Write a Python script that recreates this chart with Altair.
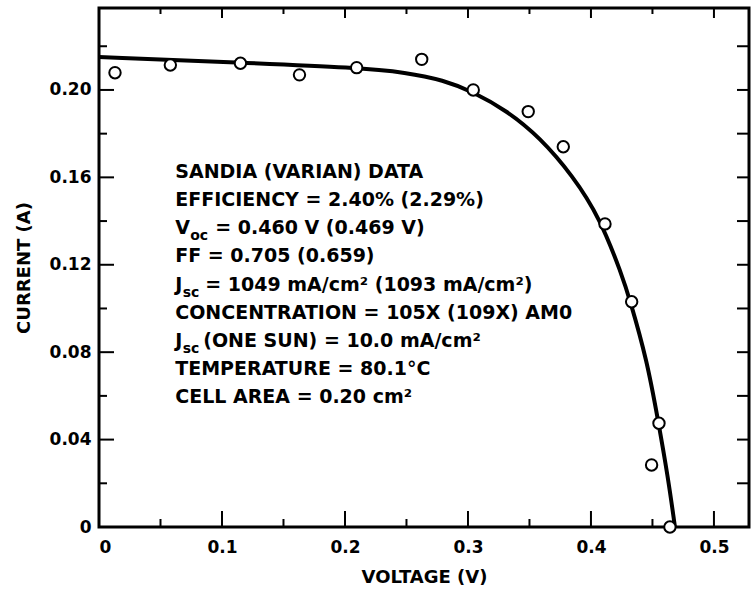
import altair as alt
import pandas as pd

# ---- data ----
meas_v = [0.013, 0.058, 0.115, 0.163, 0.2095, 0.2624, 0.3043, 0.349, 0.3775, 0.4114, 0.4331, 0.4553, 0.4493, 0.4642]
meas_i = [0.2079, 0.2114, 0.2122, 0.2069, 0.2102, 0.2140, 0.2000, 0.1901, 0.1740, 0.1387, 0.1031, 0.0475, 0.0284, 0.0]

fit_v = [0.0, 0.1146, 0.2098, 0.25, 0.28, 0.3041, 0.3317, 0.3585, 0.3854, 0.4073, 0.4252, 0.4317, 0.4455, 0.4545, 0.4626, 0.4683]
fit_i = [0.2151, 0.2125, 0.2102, 0.2080, 0.2045, 0.1992, 0.1905, 0.1783, 0.1606, 0.1414, 0.1153, 0.1039, 0.0764, 0.0490, 0.0229, 0.0]

x_major = [0.0, 0.1, 0.2, 0.3, 0.4, 0.5]
x_minor = [0.05, 0.15, 0.25, 0.35, 0.45]
y_major = [0.0, 0.04, 0.08, 0.12, 0.16, 0.20]
y_minor = [0.02, 0.06, 0.10, 0.14, 0.18, 0.22]

# annotation lines: (lead text, subscript, rest of line)
note_lead = ["SANDIA (VARIAN) DATA", "EFFICIENCY = 2.40% (2.29%)", "V", "FF = 0.705 (0.659)", "J",
             "CONCENTRATION = 105X (109X) AM0", "J", "TEMPERATURE = 80.1\u00b0C", "CELL AREA = 0.20 cm\u00b2"]
note_sub = ["", "", "oc", "", "sc", "", "sc", "", ""]
note_rest = ["", "", "= 0.460 V (0.469 V)", "", "= 1049 mA/cm\u00b2 (1093 mA/cm\u00b2)", "",
             "(ONE SUN) = 10.0 mA/cm\u00b2", "", ""]

# ---- layout ----
W, H = 650, 519
FONT = "DejaVu Sans"
XMAX, YMAX = 0.5285, 0.2375
TEXT_X, TEXT_Y0, TEXT_STEP = 0.062, 0.1625, 0.0129
SUB_DX = {"V": 15, "J": 7.5}
REST_DX = {"V": 40, "J": 30}

xs = alt.Scale(domain=[0, XMAX], nice=False, zero=False)
ys = alt.Scale(domain=[0, YMAX], nice=False, zero=False)

x_axis = alt.Axis(
    values=x_major, labelExpr="datum.value == 0 ? '0' : format(datum.value, '.1f')",
    ticks=False, domain=False, grid=False, labelFont=FONT, labelFontSize=17,
    labelFontWeight="bold", labelColor="black", labelPadding=12,
    title="VOLTAGE (V)", titleFont=FONT, titleFontSize=18, titleFontWeight="bold",
    titleColor="black", titlePadding=13,
)
y_axis = alt.Axis(
    values=y_major, labelExpr="datum.value == 0 ? '0' : format(datum.value, '.2f')",
    ticks=False, domain=False, grid=False, labelFont=FONT, labelFontSize=17,
    labelFontWeight="bold", labelColor="black", labelPadding=8,
    title="CURRENT (A)", titleFont=FONT, titleFontSize=18, titleFontWeight="bold",
    titleColor="black", titlePadding=16,
)


def X(field="v"):
    return alt.X(f"{field}:Q", scale=xs, axis=x_axis, title="VOLTAGE (V)")


def Y(field="i"):
    return alt.Y(f"{field}:Q", scale=ys, axis=y_axis, title="CURRENT (A)")


meas = pd.DataFrame({"v": meas_v, "i": meas_i})
fit = pd.DataFrame({"v": fit_v, "i": fit_i})

curve = alt.Chart(fit).mark_line(color="black", strokeWidth=4, interpolate="basis").encode(x=X(), y=Y())
points = alt.Chart(meas).mark_point(
    shape="circle", filled=True, fill="white", stroke="black", strokeWidth=2, size=130, opacity=1
).encode(x=X(), y=Y())


def xticks(vals, top, length):
    df = pd.DataFrame({"v": vals})
    y0, y1 = (0, length) if top else (H, H - length)
    return alt.Chart(df).mark_rule(color="black", strokeWidth=2).encode(
        x=X(), y=alt.value(y0), y2=alt.value(y1)
    )


def yticks(vals, right, length):
    df = pd.DataFrame({"i": vals})
    x0, x1 = (W, W - length) if right else (0, length)
    return alt.Chart(df).mark_rule(color="black", strokeWidth=2).encode(
        y=Y(), x=alt.value(x0), x2=alt.value(x1)
    )


ticks = [
    xticks(x_major, False, 16), xticks(x_minor, False, 8),
    xticks(x_major, True, 10), xticks(x_minor, True, 6),
    yticks(y_major[1:], False, 15), yticks(y_minor, False, 8),
    yticks(y_major[1:] + y_minor, True, 12),
]

line_y = [TEXT_Y0 - TEXT_STEP * k for k in range(len(note_lead))]
text_style = dict(align="left", baseline="middle", font=FONT, fontWeight="bold", color="black")

lead_df = pd.DataFrame({"txt": note_lead, "v": [TEXT_X] * len(note_lead), "i": line_y})
layers_text = [
    alt.Chart(lead_df).mark_text(fontSize=19, **text_style).encode(x=X(), y=Y(), text="txt:N")
]
for k, (lead, sub, rest) in enumerate(zip(note_lead, note_sub, note_rest)):
    if not sub:
        continue
    sdf = pd.DataFrame({"txt": [sub], "v": [TEXT_X], "i": [line_y[k]]})
    rdf = pd.DataFrame({"txt": [rest], "v": [TEXT_X], "i": [line_y[k]]})
    layers_text.append(
        alt.Chart(sdf).mark_text(fontSize=14, dx=SUB_DX[lead], dy=8, **text_style)
        .encode(x=X(), y=Y(), text="txt:N")
    )
    layers_text.append(
        alt.Chart(rdf).mark_text(fontSize=19, dx=REST_DX[lead] - (2 if rest.startswith("(") else 0), **text_style)
        .encode(x=X(), y=Y(), text="txt:N")
    )

chart = alt.layer(curve, points, *ticks, *layers_text).properties(
    width=W, height=H,
    autosize=alt.AutoSizeParams(type="none"),
    padding={"left": 99, "top": 8, "right": 2, "bottom": 70},
    background="white",
).configure_view(stroke="black", strokeWidth=3)

chart.save("out.html", embed_options={"renderer": "svg", "actions": False})
